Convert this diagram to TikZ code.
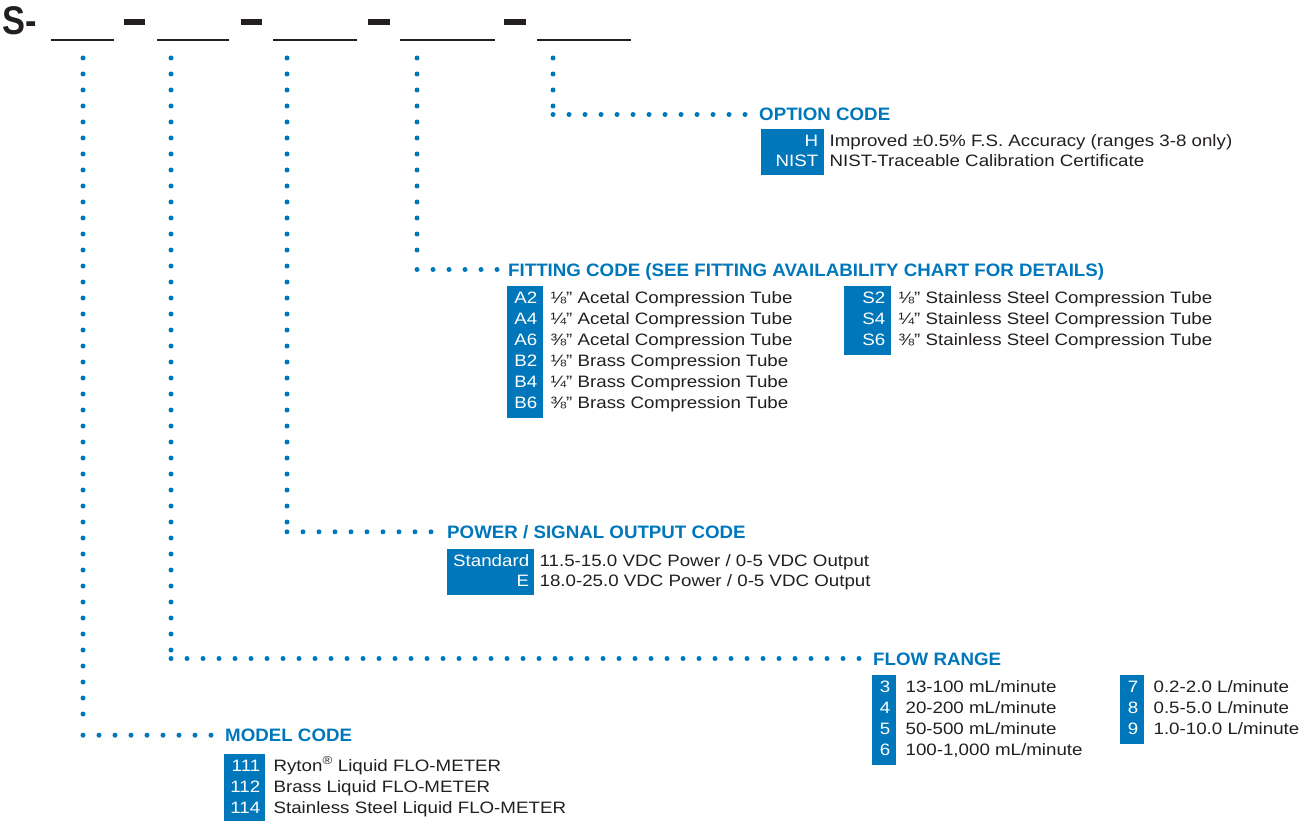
\documentclass[tikz,border=0pt]{standalone}
\usepackage{fontspec}
\setmainfont{Liberation Sans}
\newfontfamily\bodyfont{Liberation Sans}[FakeStretch=1.135]
\newfontfamily\headfont{Liberation Sans}[FakeStretch=1.04]
\newfontfamily\prefont{Liberation Sans}[FakeStretch=0.86]
\usetikzlibrary{positioning}
\definecolor{brand}{RGB}{0,119,187}
\definecolor{ink}{RGB}{35,31,32}
\newcommand{\codecol}[1]{\begin{tabular}{@{}r@{}}#1\end{tabular}}
\newcommand{\desccol}[1]{\begin{tabular}{@{}l@{}}#1\end{tabular}}
\tikzset{
  head/.style={font=\headfont\bfseries\fontsize{18}{21}\selectfont, text=brand,
    inner sep=0pt, anchor=base west, text height=13pt, text depth=0pt},
  codes/.style={fill=brand, text=white, font=\bodyfont\fontsize{16.5}{21}\selectfont,
    inner xsep=6pt, inner ysep=3pt, text width=#1, align=right, anchor=north west},
  desc/.style={text=ink, font=\bodyfont\fontsize{16.5}{21}\selectfont,
    inner xsep=0pt, inner ysep=3pt},
  tight/.style={execute at begin node=\def\arraystretch{0.95}},
  dots/.style={draw=brand, line width=5pt, line cap=round,
    dash pattern=on 0pt off 16pt, shorten >=7pt},
  lead/.style={dots, shorten >=8pt},
  blank/.style={draw=ink, line width=2.2pt},
  bar/.style={draw=ink, line width=6pt}
}
\begin{document}
\begin{tikzpicture}[x=1pt, y=-1pt]
\useasboundingbox (0,0) rectangle (1306,821);

% part number
\node[font=\prefont\bfseries\fontsize{40}{40}\selectfont, text=ink, inner sep=0pt,
  anchor=base west] (pre) at (2,35) {S-};
\draw[blank] (51,40) -- (114,40);
\draw[blank] (157,40) -- (229,40);
\draw[blank] (273,40) -- (357,40);
\draw[blank] (400,40) -- (495,40);
\draw[blank] (537,40) -- (631,40);
\draw[bar] (124,22) -- (145,22);
\draw[bar] (241,22) -- (262,22);
\draw[bar] (368,22) -- (390,22);
\draw[bar] (504,22) -- (526,22);

\coordinate (t1) at (83,58);
\coordinate (t2) at (171,58);
\coordinate (t3) at (287,58);
\coordinate (t4) at (417,58);
\coordinate (t5) at (553,58);

% headings
\node[head] (oh) at (759,121) {OPTION CODE};
\node[head] (fh) at (508,276) {FITTING CODE (SEE FITTING AVAILABILITY CHART FOR DETAILS)};
\node[head] (ph) at (447,538.3) {POWER / SIGNAL OUTPUT CODE};
\node[head] (rh) at (873,665) {FLOW RANGE};
\node[head] (mh) at (225,741.7) {MODEL CODE};

% option code
\node[codes=51pt, tight] (oc) at (761,129) {\codecol{H\\NIST}};
\node[desc, tight, right=5pt of oc.north east, anchor=north west] (od)
  {\desccol{Improved ±0.5\% F.S. Accuracy (ranges 3-8 only)\\NIST-Traceable Calibration Certificate}};

% fitting code
\node[codes=24pt] (fc1) at (507,286) {\codecol{A2\\A4\\A6\\B2\\B4\\B6}};
\node[desc, right=7pt of fc1.north east, anchor=north west] (fd1)
  {\desccol{⅛” Acetal Compression Tube\\¼” Acetal Compression Tube\\⅜” Acetal Compression Tube\\
  ⅛” Brass Compression Tube\\¼” Brass Compression Tube\\⅜” Brass Compression Tube}};
\node[codes=35pt] (fc2) at (844,286) {\codecol{S2\\S4\\S6}};
\node[desc, right=7pt of fc2.north east, anchor=north west] (fd2)
  {\desccol{⅛” Stainless Steel Compression Tube\\¼” Stainless Steel Compression Tube\\
  ⅜” Stainless Steel Compression Tube}};

% power / signal output code
\node[codes=75pt, tight] (pc) at (447,549) {\codecol{Standard\\E}};
\node[desc, tight, right=5pt of pc.north east, anchor=north west] (pd)
  {\desccol{11.5-15.0 VDC Power / 0-5 VDC Output\\18.0-25.0 VDC Power / 0-5 VDC Output}};

% flow range
\node[codes=12pt] (rc1) at (872,675) {\codecol{3\\4\\5\\6}};
\node[desc, right=9pt of rc1.north east, anchor=north west] (rd1)
  {\desccol{13-100 mL/minute\\20-200 mL/minute\\50-500 mL/minute\\100-1,000 mL/minute}};
\node[codes=12pt] (rc2) at (1120,675) {\codecol{7\\8\\9}};
\node[desc, right=9pt of rc2.north east, anchor=north west] (rd2)
  {\desccol{0.2-2.0 L/minute\\0.5-5.0 L/minute\\1.0-10.0 L/minute}};

% model code
\node[codes=31pt, inner xsep=5pt] (mc) at (224,753.3) {\codecol{111\\112\\114}};
\node[desc, right=8pt of mc.north east, anchor=north west] (md)
  {\desccol{Ryton\textsuperscript{®} Liquid FLO-METER\\Brass Liquid FLO-METER\\
  Stainless Steel Liquid FLO-METER}};

% leaders
\coordinate (k1) at (t1 |- mh.west);
\coordinate (k2) at (t2 |- rh.west);
\coordinate (k3) at (t3 |- ph.west);
\coordinate (k4) at (t4 |- fh.west);
\coordinate (k5) at (t5 |- oh.west);
\draw[dots] (t1) -- (k1);
\draw[dots] (t2) -- (k2);
\draw[dots] (t3) -- (k3);
\draw[dots] (t4) -- (k4);
\draw[dots] (t5) -- (k5);
\draw[lead] (k1) -- (mh.west);
\draw[lead] (k2) -- (rh.west);
\draw[lead] (k3) -- (ph.west);
\draw[lead] (k4) -- (fh.west);
\draw[lead] (k5) -- (oh.west);
\end{tikzpicture}
\end{document}
